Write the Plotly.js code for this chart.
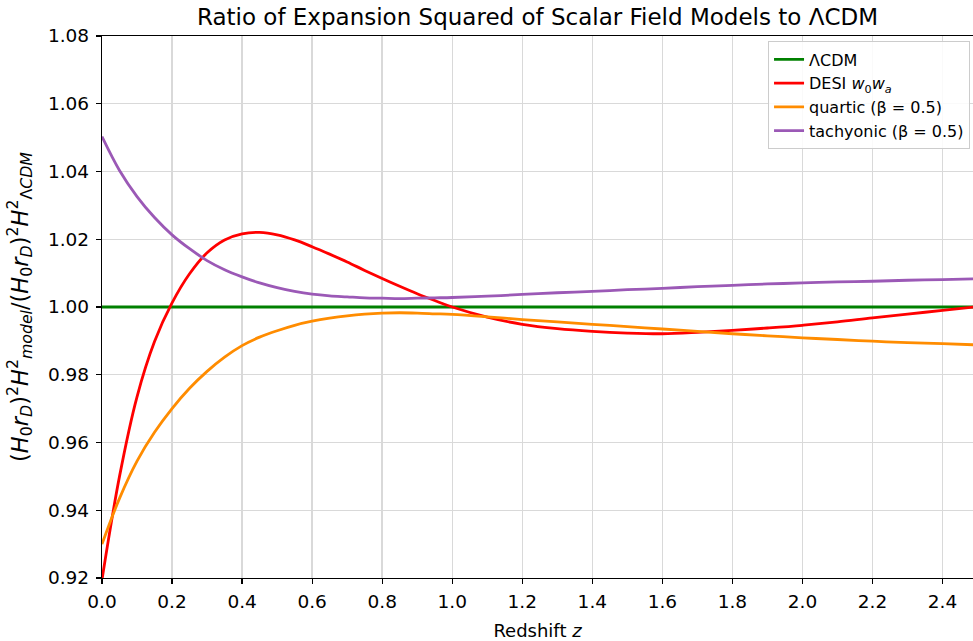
<!DOCTYPE html>
<html>
<head>
<meta charset="utf-8">
<script src="https://cdn.plot.ly/plotly-3.0.1.min.js"></script>
<style>html,body{margin:0;padding:0;background:#fff;}#chart{width:973px;height:641px;}</style>
</head>
<body>
<div id="chart"></div>
<script>
// Redshift grid
const redshift = [0, 0.05, 0.10, 0.15, 0.20, 0.25, 0.30, 0.35, 0.40, 0.45, 0.50, 0.55, 0.60, 0.65, 0.70, 0.75, 0.80, 0.85, 0.90, 0.95, 1.0, 1.1, 1.2, 1.3, 1.4, 1.5, 1.6, 1.7, 1.8, 1.9, 2.0, 2.1, 2.2, 2.3, 2.4, 2.5];

const lcdm = [1,1,1,1,1,1,1,1,1,1,1,1,1,1,1,1,1,1,1,1,1,1,1,1,1,1,1,1,1,1,1,1,1,1,1,1];

const desiW0Wa = [0.9195, 0.9500, 0.9735, 0.9898, 1.0012, 1.0098, 1.0160, 1.0198, 1.0216, 1.0220, 1.0213, 1.0198, 1.0178, 1.0156, 1.0133, 1.0108, 1.0084, 1.0061, 1.0039, 1.0019, 1.0000, 0.9970, 0.9949, 0.9936, 0.9928, 0.9923, 0.9921, 0.9925, 0.9931, 0.9938, 0.9946, 0.9956, 0.9968, 0.9979, 0.9990, 1.0001];

const quartic = [0.9300, 0.9435, 0.9545, 0.9630, 0.9700, 0.9760, 0.9810, 0.9852, 0.9886, 0.9911, 0.9930, 0.9946, 0.9958, 0.9967, 0.9974, 0.9979, 0.9982, 0.9983, 0.9982, 0.9980, 0.9978, 0.9971, 0.9963, 0.9956, 0.9949, 0.9942, 0.9935, 0.9928, 0.9921, 0.9915, 0.9909, 0.9904, 0.9899, 0.9895, 0.9892, 0.9888];

const tachyonic = [1.0503, 1.0403, 1.0326, 1.0264, 1.0213, 1.0172, 1.0137, 1.0110, 1.0089, 1.0071, 1.0057, 1.0046, 1.0038, 1.0033, 1.0030, 1.0027, 1.0026, 1.0025, 1.0026, 1.0027, 1.0028, 1.0032, 1.0037, 1.0042, 1.0046, 1.0051, 1.0055, 1.0060, 1.0064, 1.0068, 1.0071, 1.0074, 1.0076, 1.0079, 1.0081, 1.0083];

const seriesNames = ['ΛCDM', 'DESI <i>w</i><sub>0</sub><i>w</i><sub><i>a</i></sub>', 'quartic (β = 0.5)', 'tachyonic (β = 0.5)'];
const seriesColors = ['#008000', '#ff0000', '#ff8c00', '#9b59b6'];
const seriesValues = [lcdm, desiW0Wa, quartic, tachyonic];

const xTickVals = [0, 0.2, 0.4, 0.6, 0.8, 1.0, 1.2, 1.4, 1.6, 1.8, 2.0, 2.2, 2.4];
const yTickVals = [0.92, 0.94, 0.96, 0.98, 1.00, 1.02, 1.04, 1.06, 1.08];

const FONT = 'DejaVu Sans, Liberation Sans, sans-serif';

const traces = seriesValues.map((vals, i) => ({
  x: redshift,
  y: vals,
  type: 'scatter',
  mode: 'lines',
  name: seriesNames[i],
  line: {color: seriesColors[i], width: 2.8, shape: 'spline', smoothing: 1}
}));

const layout = {
  width: 973,
  height: 641,
  margin: {l: 102, r: 0, t: 36, b: 63, pad: 0},
  paper_bgcolor: '#ffffff',
  plot_bgcolor: '#ffffff',
  font: {family: FONT, color: '#000000', size: 18},
  title: {
    text: 'Ratio of Expansion Squared of Scalar Field Models to ΛCDM',
    font: {family: FONT, size: 23, color: '#000000'},
    x: 0.5, xanchor: 'center', xref: 'paper',
    y: 0.973, yanchor: 'middle'
  },
  showlegend: true,
  legend: {
    x: 0.9966, xanchor: 'right',
    y: 0.99, yanchor: 'top',
    bgcolor: 'rgba(255,255,255,0.85)',
    bordercolor: '#cccccc',
    borderwidth: 1,
    font: {family: FONT, size: 16, color: '#000000'},
    tracegroupgap: 0
  },
  xaxis: {
    range: [0, 2.487],
    tickvals: xTickVals,
    tickformat: '.1f',
    ticks: 'outside', ticklen: 5, tickwidth: 1.2, tickcolor: '#000000',
    ticklabelstandoff: 2,
    showline: true, linecolor: '#000000', linewidth: 1.2, mirror: true,
    showgrid: true, gridcolor: '#d9d9d9', gridwidth: 1.4,
    zeroline: false,
    tickfont: {family: FONT, size: 18.5, color: '#000000'},
    title: {text: 'Redshift <i>z</i>', font: {family: FONT, size: 18, color: '#000000'}, standoff: 14}
  },
  yaxis: {
    range: [0.92, 1.08],
    tickvals: yTickVals,
    tickformat: '.2f',
    ticks: 'outside', ticklen: 5, tickwidth: 1.2, tickcolor: '#000000',
    ticklabelstandoff: 3,
    showline: true, linecolor: '#000000', linewidth: 1.2, mirror: false,
    showgrid: true, gridcolor: '#d9d9d9', gridwidth: 1.4,
    zeroline: false,
    tickfont: {family: FONT, size: 18.5, color: '#000000'},
    title: {
      text: '(<i>H</i><sub>0</sub><i>r</i><sub><i>D</i></sub>)<sup>2</sup><i>H</i><sup>2</sup><sub><i>model</i></sub>/(<i>H</i><sub>0</sub><i>r</i><sub><i>D</i></sub>)<sup>2</sup><i>H</i><sup>2</sup><sub>Λ<i>CDM</i></sub>',
      font: {family: FONT, size: 22.5, color: '#000000'},
      standoff: 13
    }
  }
};

Plotly.newPlot('chart', traces, layout, {displayModeBar: false, staticPlot: true});
</script>
</body>
</html>
